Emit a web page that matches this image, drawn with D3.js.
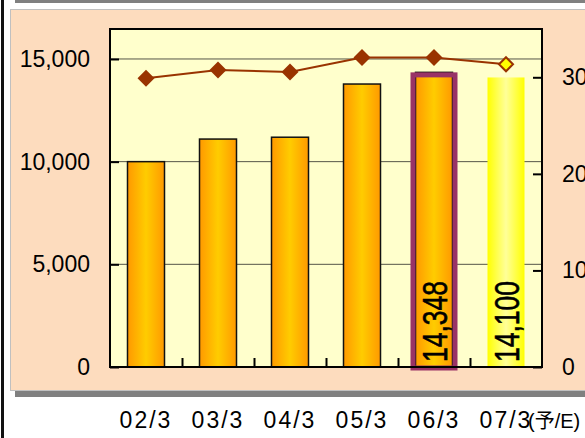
<!DOCTYPE html>
<html>
<head>
<meta charset="utf-8">
<script src="https://cdn.jsdelivr.net/npm/d3@7"></script>
<style>
  body { margin: 0; background: #fff; }
  svg { display: block; font-family: "Liberation Sans", Arial, "Noto Sans CJK JP", sans-serif; }
</style>
</head>
<body>
<svg></svg>
<script>
// data
var categories = ["02/3", "03/3", "04/3", "05/3", "06/3", "07/3"]
var sales = [10000, 11100, 11190, 13780, 14348, 14100]
var ratio = [299, 307.5, 305.5, 320.5, 320.5, 313.5]
var leftTicks = [0, 5000, 10000, 15000]
var rightTicks = [0, 100, 200, 300]
var lastSuffix = "(予/E)"

var screen = {width: 585, height: 438}
var plot = {left: 110, top: 29, right: 542, bottom: 367}

var svg = d3.select("svg")
    .attr("width", screen.width)
    .attr("height", screen.height)

// outer frame bits
svg.append("rect").attr("x", 1).attr("y", 0).attr("width", 3).attr("height", screen.height).attr("fill", "#111")
svg.append("rect").attr("x", 15).attr("y", 0).attr("width", screen.width).attr("height", 3).attr("fill", "#808080")

// panel + shadow
svg.append("rect").attr("x", 15).attr("y", 15).attr("width", 600).attr("height", 382).attr("fill", "#808080")
svg.append("rect").attr("x", 10.5).attr("y", 9.5).attr("width", 600).attr("height", 381)
    .attr("fill", "#FDDCBE").attr("stroke", "#C0C0C0")

var xScale = d3.scaleBand()
    .domain(categories)
    .range([plot.left, plot.right])

var yLeft = d3.scaleLinear()
    .domain([0, 16460])
    .range([plot.bottom, plot.top])

var yRight = d3.scaleLinear()
    .domain([0, 350])
    .range([plot.bottom, plot.top])

var barW = 37

// gradients
var defs = svg.append("defs")
var g1 = defs.append("linearGradient").attr("id", "orangeGrad")
g1.append("stop").attr("offset", "0%").attr("stop-color", "#FF9900")
g1.append("stop").attr("offset", "50%").attr("stop-color", "#FFCC00")
g1.append("stop").attr("offset", "100%").attr("stop-color", "#FF9900")
var g2 = defs.append("linearGradient").attr("id", "yellowGrad")
g2.append("stop").attr("offset", "0%").attr("stop-color", "#FFFF00")
g2.append("stop").attr("offset", "50%").attr("stop-color", "#FFFF99")
g2.append("stop").attr("offset", "100%").attr("stop-color", "#FFFF00")

// plot background
svg.append("rect")
    .attr("x", plot.left).attr("y", plot.top)
    .attr("width", plot.right - plot.left).attr("height", plot.bottom - plot.top)
    .attr("fill", "#FFFFCC")

// gridlines
svg.append("g").selectAll("line")
    .data(leftTicks.slice(1))
    .enter()
    .append("line")
    .attr("x1", plot.left).attr("x2", plot.right)
    .attr("y1", function(d) { return yLeft(d) })
    .attr("y2", function(d) { return yLeft(d) })
    .attr("stroke", "#555548")
    .attr("stroke-width", 1)

// bars
var last = categories.length - 1
svg.append("g").selectAll("rect")
    .data(sales)
    .enter()
    .append("rect")
    .attr("x", function(d, i) { return xScale(categories[i]) + xScale.bandwidth() / 2 - barW / 2 })
    .attr("y", function(d) { return yLeft(d) })
    .attr("width", barW)
    .attr("height", function(d) { return plot.bottom - yLeft(d) })
    .attr("fill", function(d, i) { return i == last ? "url(#yellowGrad)" : "url(#orangeGrad)" })
    .attr("stroke", function(d, i) { return i == last ? "none" : "#111" })
    .attr("stroke-width", 1.5)

// highlight box around 06/3
var hi = 4
var hiX = xScale(categories[hi]) + xScale.bandwidth() / 2
svg.append("rect")
    .attr("x", hiX - 21)
    .attr("y", yLeft(sales[hi]) + 2.5)
    .attr("width", 42)
    .attr("height", plot.bottom + 1 - yLeft(sales[hi]) - 2.5)
    .attr("fill", "none")
    .attr("stroke", "#993366")
    .attr("stroke-width", 5)

// value labels in last two bars
svg.append("g").selectAll("text")
    .data([hi, last])
    .enter()
    .append("text")
    .attr("transform", function(i) {
        var cx = xScale(categories[i]) + xScale.bandwidth() / 2
        return "translate(" + (cx + 13) + "," + (plot.bottom - 5) + ") rotate(-90)"
    })
    .attr("font-size", 35)
    .attr("textLength", 81)
    .attr("lengthAdjust", "spacingAndGlyphs")
    .attr("fill", "#000")
    .attr("stroke", "#000")
    .attr("stroke-width", 0.6)
    .text(function(i) { return d3.format(",")(sales[i]) })

// line + markers
var line = d3.line()
    .x(function(d, i) { return xScale(categories[i]) + xScale.bandwidth() / 2 })
    .y(function(d) { return yRight(d) })

svg.append("path")
    .datum(ratio)
    .attr("d", line)
    .attr("fill", "none")
    .attr("stroke", "#993300")
    .attr("stroke-width", 2)

svg.append("g").selectAll("path")
    .data(ratio)
    .enter()
    .append("path")
    .attr("transform", function(d, i) {
        return "translate(" + (xScale(categories[i]) + xScale.bandwidth() / 2) + "," + yRight(d) + ")"
    })
    .attr("d", function(d, i) {
        var r = i == last ? 7 : 8.5
        return "M0," + (-r) + "L" + r + ",0L0," + r + "L" + (-r) + ",0Z"
    })
    .attr("fill", function(d, i) { return i == last ? "#FFFF00" : "#993300" })
    .attr("stroke", "#993300")
    .attr("stroke-width", function(d, i) { return i == last ? 2 : 0 })

// plot border
svg.append("rect")
    .attr("x", plot.left).attr("y", plot.top)
    .attr("width", plot.right - plot.left).attr("height", plot.bottom - plot.top)
    .attr("fill", "none")
    .attr("stroke", "#000")
    .attr("stroke-width", 2)

// axes
var leftAxis = d3.axisLeft(yLeft).tickValues(leftTicks).tickSize(-9).tickPadding(20).tickFormat(d3.format(","))
var rightAxis = d3.axisRight(yRight).tickValues(rightTicks).tickSize(-9).tickPadding(20)
var xTickScale = d3.scaleLinear().domain([0, categories.length]).range([plot.left, plot.right])
var bottomAxis = d3.axisBottom(xTickScale).tickValues([1, 2, 3, 4, 5]).tickSize(-9).tickFormat("")

var gl = svg.append("g").attr("transform", "translate(" + plot.left + ",0)").call(leftAxis)
var gr = svg.append("g").attr("transform", "translate(" + plot.right + ",0)").call(rightAxis)
var gb = svg.append("g").attr("transform", "translate(0," + plot.bottom + ")").call(bottomAxis)

;[gl, gr, gb].forEach(function(g) {
    g.select(".domain").remove()
    g.selectAll(".tick line").attr("stroke", "#000").attr("stroke-width", 2)
    g.selectAll("text").attr("font-size", 23).attr("fill", "#000").attr("font-family", null)
})

// category labels below the panel
svg.append("g").selectAll("text")
    .data(categories)
    .enter()
    .append("text")
    .attr("x", function(d) { return xScale(d) + xScale.bandwidth() / 2 })
    .attr("y", 428)
    .attr("text-anchor", "middle")
    .attr("font-size", 23)
    .attr("letter-spacing", 2)
    .attr("fill", "#000")
    .text(function(d) { return d })

svg.append("text")
    .attr("x", xScale(categories[last]) + xScale.bandwidth() / 2 + 22)
    .attr("y", 428)
    .attr("font-size", 20)
    .attr("fill", "#000")
    .text(lastSuffix)
</script>
</body>
</html>
